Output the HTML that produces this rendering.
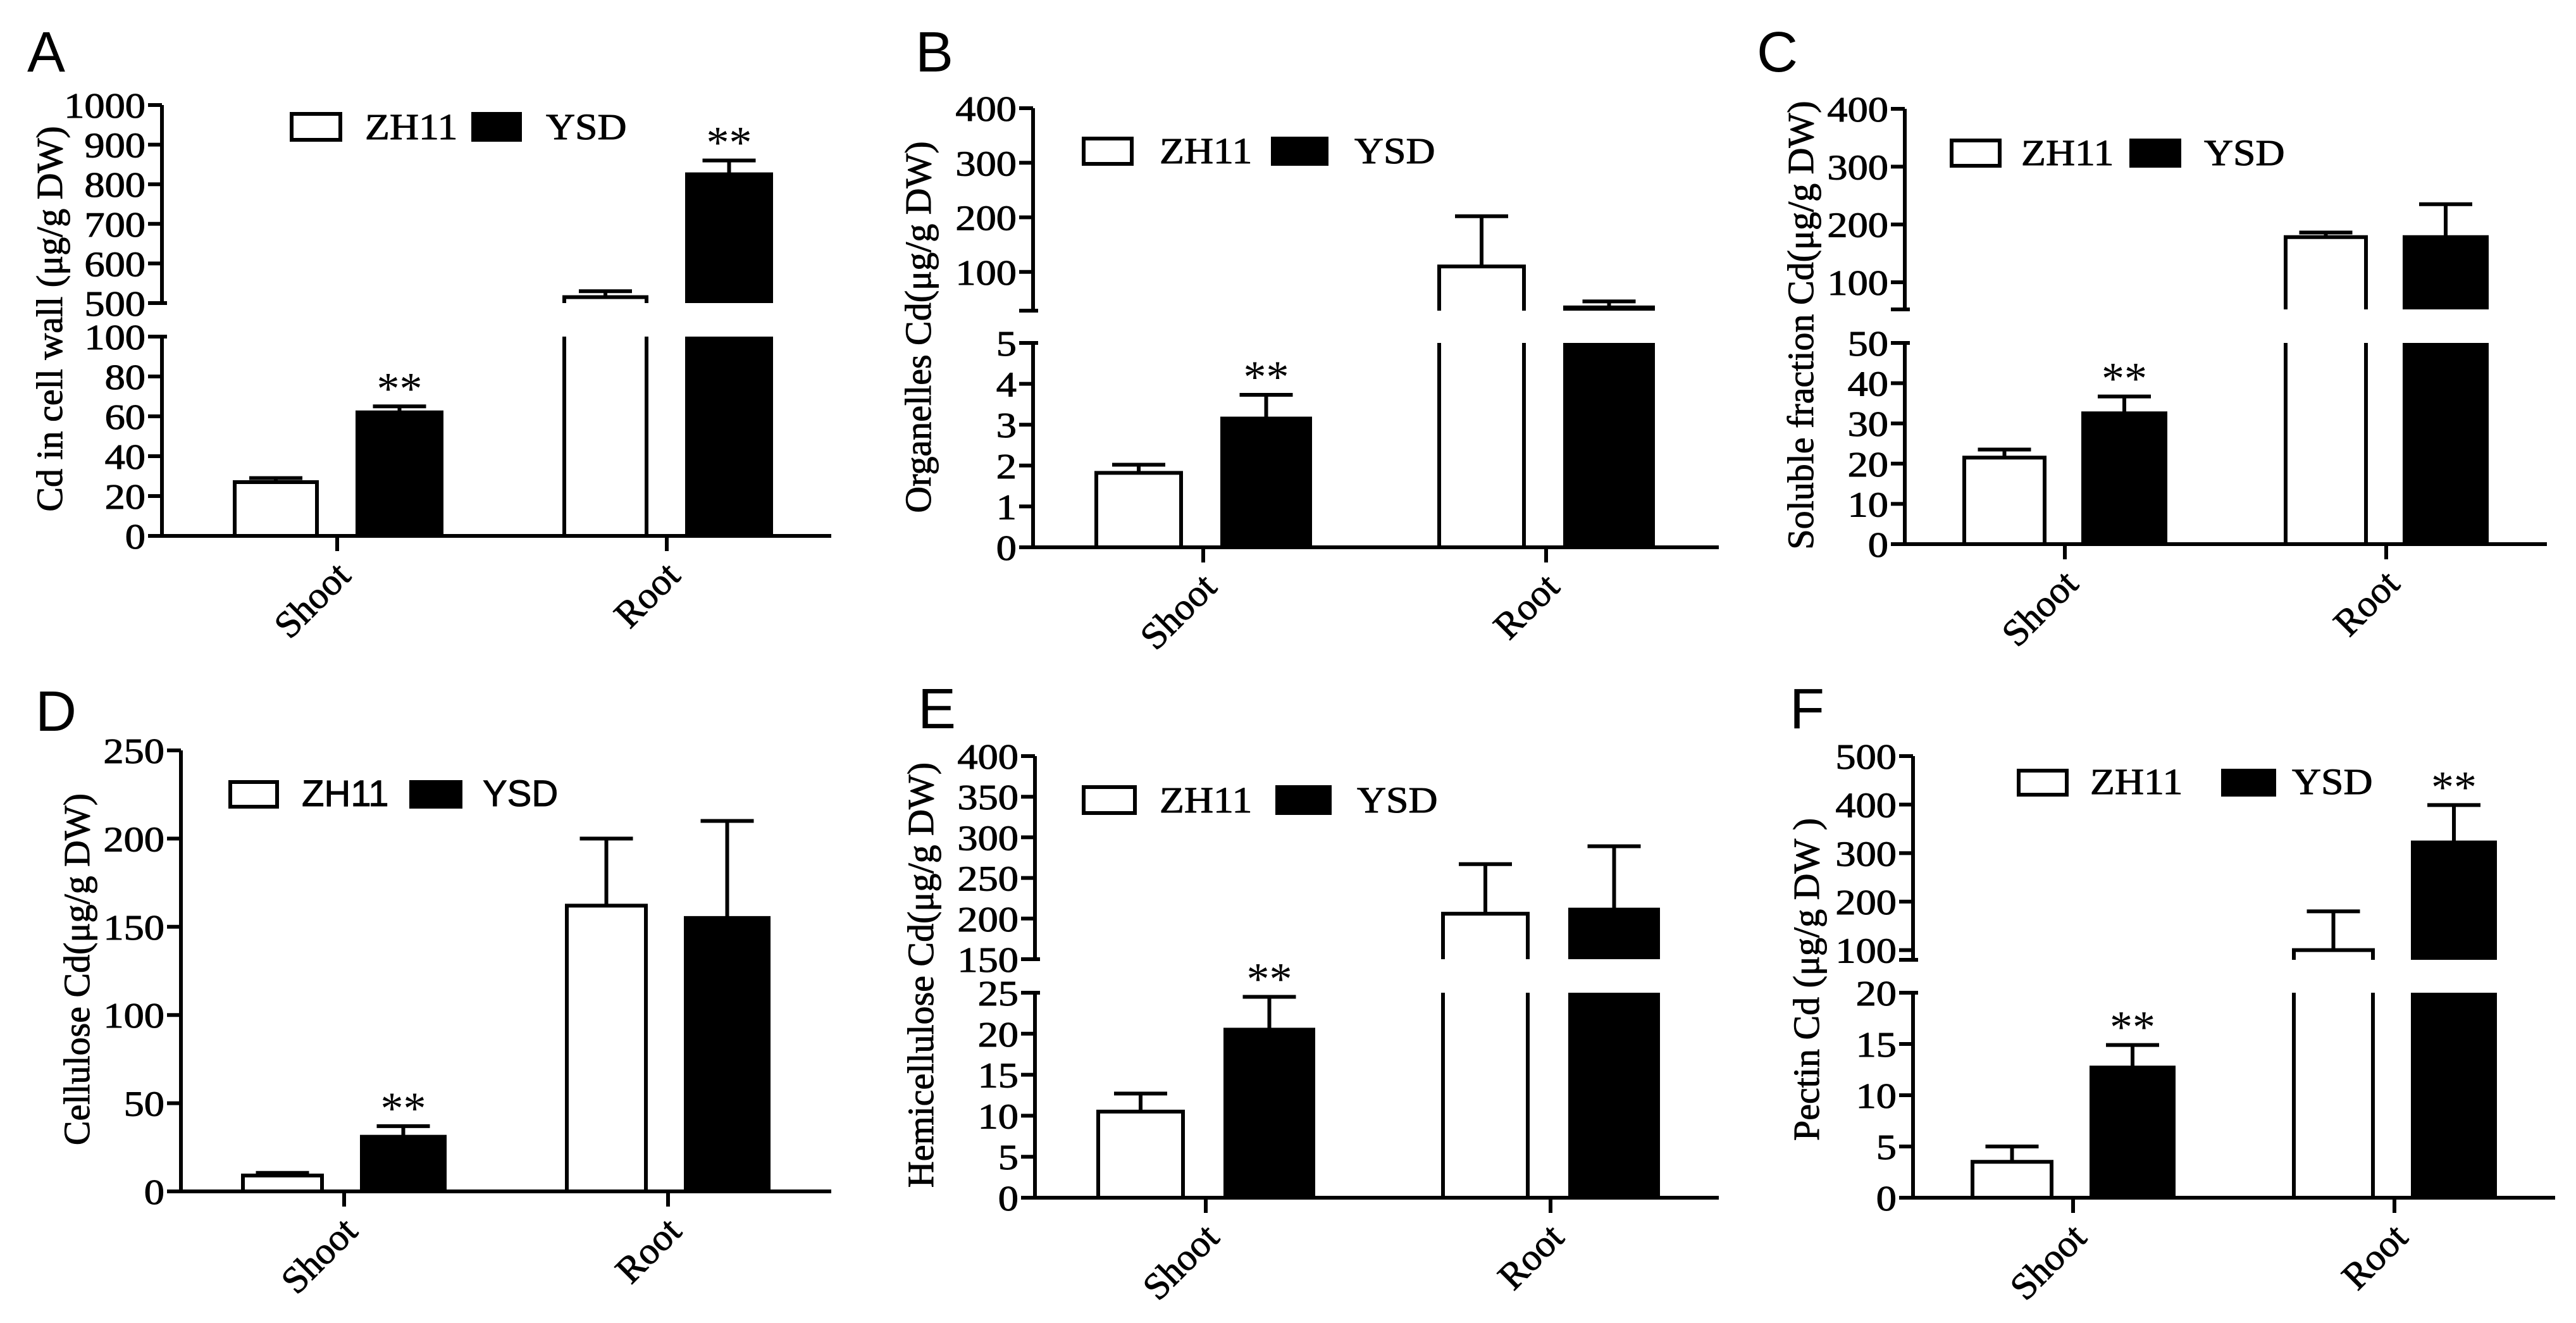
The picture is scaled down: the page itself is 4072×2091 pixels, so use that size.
<!DOCTYPE html>
<html><head><meta charset="utf-8"><style>
html,body{margin:0;padding:0;background:#fff;}
svg{display:block;}
</style></head><body>
<svg id="fig" width="4072" height="2091" viewBox="0 0 4072 2091" xmlns="http://www.w3.org/2000/svg"></svg>
<script>
const categories = ['Shoot', 'Root'];
const seriesNames = ['ZH11', 'YSD'];
// Panel A: Cd in cell wall
const zhA = [27, 515];   const ysdA = [62, 825];
const zhErrA = [2, 15];  const ysdErrA = [3, 35];
// Panel B: organelles
const zhB = [1.82, 110]; const ysdB = [3.15, 35];
const zhErrB = [0.2, 92]; const ysdErrB = [0.58, 11];
// Panel C: soluble
const zhC = [21.5, 178]; const ysdC = [32.5, 178];
const zhErrC = [2, 8];   const ysdErrC = [4.2, 57];
// Panel D: cellulose
const zhD = [9, 162];    const ysdD = [31, 155];
const zhErrD = [1.5, 38]; const ysdErrD = [6, 55];
// Panel E: hemicellulose
const zhE = [10.5, 206]; const ysdE = [20.5, 211];
const zhErrE = [2.2, 61]; const ysdErrE = [4, 78];
// Panel F: pectin
const zhF = [3.5, 100];  const ysdF = [12.7, 322];
const zhErrF = [1.5, 80]; const ysdErrF = [2.2, 77];
// significance flags for YSD bars
const sigYsdA = ['**', '**'];
const sigYsdB = ['**', ''];
const sigYsdC = ['**', ''];
const sigYsdD = ['**', ''];
const sigYsdE = ['**', ''];
const sigYsdF = ['**', '**'];
// tick values
const ticksLowA = [0,20,40,60,80,100]; const ticksUpA = [500,600,700,800,900,1000];
const ticksLowB = [0,1,2,3,4,5];       const ticksUpB = [100,200,300,400];
const ticksLowC = [0,10,20,30,40,50];  const ticksUpC = [100,200,300,400];
const ticksLowD = [0,50,100,150,200,250];
const ticksLowE = [0,5,10,15,20,25];   const ticksUpE = [150,200,250,300,350,400];
const ticksLowF = [0,5,10,15,20];      const ticksUpF = [100,200,300,400,500];

const NS = 'http://www.w3.org/2000/svg';
const svg = document.getElementById('fig');
const SERIF = '"Liberation Serif", "DejaVu Serif", serif';
const SANS = '"Liberation Sans", "DejaVu Sans", sans-serif';
const SW = 6;

function mk(tag, attrs, parent) {
  const e = document.createElementNS(NS, tag);
  for (const k in attrs) e.setAttribute(k, attrs[k]);
  (parent || svg).appendChild(e);
  return e;
}
function txt(parent, x, y, s, size, anchor, family, sx) {
  const t = mk('text', {transform: `translate(${x},${y}) scale(${sx||1.15},1)`, 'font-size': size, 'text-anchor': anchor, 'font-family': family || SERIF, fill: '#000', stroke:'#000', 'stroke-width':1}, parent);
  t.textContent = s;
  return t;
}

const panels = [
  {id:'a', letter:'A', lx:43, ly:109, axisX:256, y0:847, xEnd:1314, cx:[533,1054], zOff:[-162,-32], yOff:[32,165],
   low:{min:0,max:100,yTop:532,ticks:ticksLowA}, up:{min:500,max:1000,yBot:479,yTop:166,ticks:ticksUpA},
   zh:zhA, ysd:ysdA, zhE:zhErrA, ysdE:ysdErrA, sig:sigYsdA,
   leg:{zb:[461,180,77,41], zt:577, yb:[748,180,74,41], yt:863, font:SERIF},
   title:'Cd in cell wall (μg/g DW)', tx:78, ty:504},
  {id:'b', letter:'B', lx:1447, ly:109, axisX:1633, y0:865, xEnd:2717, cx:[1902,2444], zOff:[-169,-35], yOff:[30,169],
   low:{min:0,max:5,yTop:542,ticks:ticksLowB}, up:{min:29,max:400,yBot:491,yTop:171,ticks:ticksUpB},
   zh:zhB, ysd:ysdB, zhE:zhErrB, ysdE:ysdErrB, sig:sigYsdB,
   leg:{zb:[1713,219,76,40], zt:1833, yb:[2012,219,85,40], yt:2141, font:SERIF},
   title:'Organelles Cd(μg/g DW)', tx:1451, ty:517},
  {id:'c', letter:'C', lx:2777, ly:109, axisX:3011, y0:860, xEnd:4026, cx:[3264,3772], zOff:[-159,-32], yOff:[29,159],
   low:{min:0,max:50,yTop:542,ticks:ticksLowC}, up:{min:53,max:400,yBot:489,yTop:172,ticks:ticksUpC},
   zh:zhC, ysd:ysdC, zhE:zhErrC, ysdE:ysdErrC, sig:sigYsdC,
   leg:{zb:[3085,222,76,40], zt:3195, yb:[3369,222,76,40], yt:3484, font:SERIF},
   title:'Soluble fraction Cd(μg/g DW)', tx:2846, ty:514},
  {id:'d', letter:'D', lx:56, ly:1151, axisX:286, y0:1883, xEnd:1314, cx:[544,1056], zOff:[-160,-35], yOff:[28,159],
   low:{min:0,max:250,yTop:1186,ticks:ticksLowD}, up:null,
   zh:zhD, ysd:ysdD, zhE:zhErrD, ysdE:ysdErrD, sig:sigYsdD,
   leg:{zb:[364,1236,74,39], zt:477, yb:[650,1236,78,39], yt:763, font:SANS},
   title:'Cellulose Cd(μg/g DW)', tx:121, ty:1532},
  {id:'e', letter:'E', lx:1451, ly:1147, axisX:1636, y0:1893, xEnd:2717, cx:[1906,2451], zOff:[-170,-36], yOff:[31,170],
   low:{min:0,max:25,yTop:1569,ticks:ticksLowE}, up:{min:150,max:400,yBot:1516,yTop:1195,ticks:ticksUpE},
   zh:zhE, ysd:ysdE, zhE:zhErrE, ysdE:ysdErrE, sig:sigYsdE,
   leg:{zb:[1713,1244,81,41], zt:1833, yb:[2019,1244,83,41], yt:2145, font:SERIF},
   title:'Hemicellulose Cd(μg/g DW)', tx:1455, ty:1541},
  {id:'f', letter:'F', lx:2829, ly:1147, axisX:3024, y0:1893, xEnd:4039, cx:[3277,3785], zOff:[-159,-34], yOff:[29,159],
   low:{min:0,max:20,yTop:1569,ticks:ticksLowF}, up:{min:80,max:500,yBot:1517,yTop:1195,ticks:ticksUpF},
   zh:zhF, ysd:ysdF, zhE:zhErrF, ysdE:ysdErrF, sig:sigYsdF,
   leg:{zb:[3191,1218,76,38], zt:3304, yb:[3514,1218,81,38], yt:3623, font:SERIF},
   title:'Pectin Cd (μg/g DW )', tx:2855, ty:1548}
];

panels.forEach(p => {
  const g = mk('g', {});
  
  

  const yLow = v => p.y0 - (v - p.low.min) / (p.low.max - p.low.min) * (p.y0 - p.low.yTop);
  const yUp = v => p.up.yBot - (v - p.up.min) / (p.up.max - p.up.min) * (p.up.yBot - p.up.yTop);
  const yVal = v => (!p.up || v <= p.low.max) ? yLow(v) : yUp(v);

  const L = mk('text', {x:p.lx, y:p.ly + 4, 'font-size':90, 'font-family':SANS, fill:'#000'}, g);
  L.textContent = p.letter;
  
  

  const ax = mk('g', {stroke:'#000', 'stroke-width':SW, fill:'none'}, g);
  
  
  mk('line', {x1:p.axisX, y1:p.y0, x2:p.axisX, y2:p.low.yTop}, ax);
  if (p.up) {
    mk('line', {x1:p.axisX, y1:p.up.yBot, x2:p.axisX, y2:p.up.yTop}, ax);
    mk('line', {x1:p.axisX - 22, y1:p.up.yBot, x2:p.axisX + 8, y2:p.up.yBot}, ax);
    mk('line', {x1:p.axisX - 22, y1:p.low.yTop, x2:p.axisX + 8, y2:p.low.yTop}, ax);
  }
  const tickLbl = mk('g', {}, g);
  
  
  p.low.ticks.forEach(t => {
    const y = yLow(t);
    mk('line', {x1:p.axisX - 22, y1:y, x2:p.axisX, y2:y}, ax);
    txt(tickLbl, p.axisX - 26, y + 20, String(t), 56, 'end');
  });
  if (p.up) p.up.ticks.forEach(t => {
    const y = yUp(t);
    mk('line', {x1:p.axisX - 22, y1:y, x2:p.axisX, y2:y}, ax);
    txt(tickLbl, p.axisX - 26, y + 20, String(t), 56, 'end');
  });

  const xa = mk('g', {stroke:'#000', 'stroke-width':SW}, g);
  
  
  mk('line', {x1:p.axisX - 22, y1:p.y0, x2:p.xEnd, y2:p.y0}, xa);
  categories.forEach((c, i) => {
    mk('line', {x1:p.cx[i], y1:p.y0, x2:p.cx[i], y2:p.y0 + 24}, xa);
    const t = mk('text', {transform:`translate(${p.cx[i] + 24},${p.y0 + 66}) rotate(-45)`, 'font-size':60, 'text-anchor':'end', 'font-family':SERIF, fill:'#000', stroke:'#000', 'stroke-width':1}, g);
    t.textContent = c;
    
    
  });

  function drawBar(x1, x2, v, err, black, name, star) {
    const bg = mk('g', {}, g);
    
    
    const st = {stroke:'#000', 'stroke-width':SW, fill:'none'};
    const segs = [];
    if (!p.up || v <= p.low.max) segs.push([p.y0, yLow(v), true]);
    else { segs.push([p.y0, p.low.yTop, false]); segs.push([p.up.yBot, yUp(v), true]); }
    segs.forEach(([yb, yt, hasTop]) => {
      if (black) mk('rect', {x:x1, y:yt, width:x2 - x1, height:yb - yt, fill:'#000'}, bg);
      let d = `M${x1},${yb} V${yt}`;
      if (hasTop) d += ` H${x2}`; else d += ` M${x2},${yt}`;
      d += ` V${yb}`;
      mk('path', Object.assign({d}, st), bg);
    });
    const cxm = (x1 + x2) / 2;
    const yv = yVal(v), ye = yVal(v + err);
    mk('line', {x1:cxm, y1:yv, x2:cxm, y2:ye, stroke:'#000', 'stroke-width':SW}, bg);
    mk('line', {x1:cxm - 42, y1:ye, x2:cxm + 42, y2:ye, stroke:'#000', 'stroke-width':SW}, bg);
    if (star) {
      const s = mk('text', {x:cxm, y:ye - 4, 'font-size':72, 'text-anchor':'middle', 'font-family':SERIF, fill:'#000'}, bg);
      s.textContent = star;
    }
  }
  categories.forEach((c, i) => {
    drawBar(p.cx[i] + p.zOff[0], p.cx[i] + p.zOff[1], p.zh[i], p.zhE[i], false, 'bar-zh11-' + c.toLowerCase() + '-' + p.id, '');
    drawBar(p.cx[i] + p.yOff[0], p.cx[i] + p.yOff[1], p.ysd[i], p.ysdE[i], true, 'bar-ysd-' + c.toLowerCase() + '-' + p.id, p.sig[i]);
  });

  const lg = mk('g', {}, g);
  
  
  const zb = p.leg.zb, yb = p.leg.yb;
  mk('rect', {x:zb[0], y:zb[1], width:zb[2], height:zb[3], fill:'#fff', stroke:'#000', 'stroke-width':SW}, lg);
  txt(lg, p.leg.zt, zb[1] + zb[3] - 1, seriesNames[0], 58, 'start', p.leg.font, p.leg.font === SANS ? 1.0 : 1.1);
  mk('rect', {x:yb[0], y:yb[1], width:yb[2], height:yb[3], fill:'#000', stroke:'#000', 'stroke-width':SW}, lg);
  txt(lg, p.leg.yt, yb[1] + yb[3] - 1, seriesNames[1], 58, 'start', p.leg.font, p.leg.font === SANS ? 1.0 : 1.1);

  const tt = mk('text', {transform:`translate(${p.tx + 20},${p.ty}) rotate(-90)`, 'font-size':58, 'text-anchor':'middle', 'font-family':SERIF, fill:'#000', stroke:'#000', 'stroke-width':1}, g);
  tt.textContent = p.title;
  
  
});
</script>
</body></html>
